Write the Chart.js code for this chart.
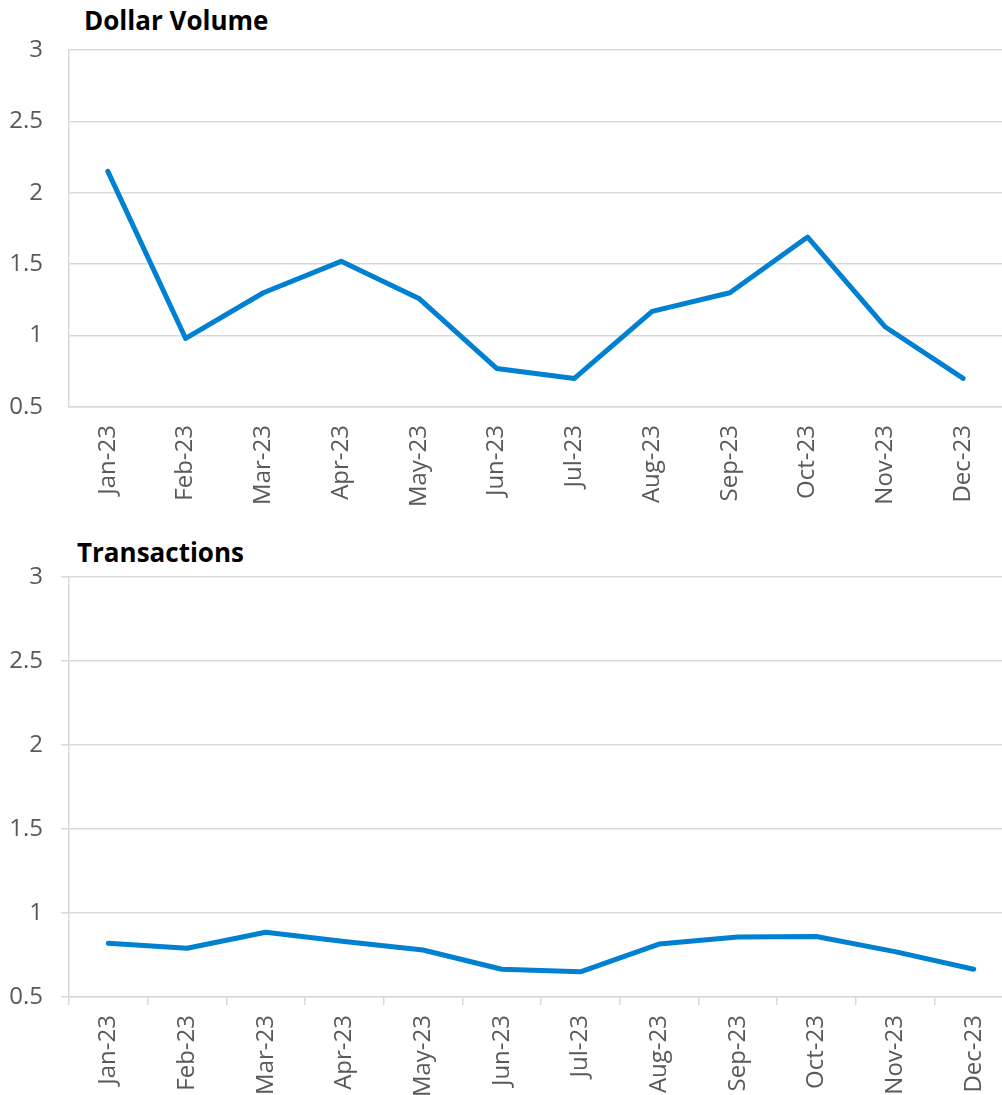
<!DOCTYPE html>
<html>
<head>
<meta charset="utf-8">
<script src="https://cdn.jsdelivr.net/npm/chart.js@4.4.1/dist/chart.umd.min.js"></script>
<style>
  body { margin: 0; background: #fff; overflow: hidden; }
  .wrap { position: relative; width: 1002px; height: 1095px; overflow: hidden; }
  .title { position: absolute; font-family: "Open Sans"; font-weight: bold; font-size: 26px; line-height: 26px; color: #000; }
  canvas { position: absolute; left: 0; }
</style>
</head>
<body>
<div class="wrap">
  <div class="title" style="left:84px; top:7px;">Dollar Volume</div>
  <canvas id="volumeChart" width="1002" height="520" style="top:0;"></canvas>
  <div class="title" style="left:77px; top:539px;">Transactions</div>
  <!-- the lower chart's plot runs a little past the right edge of the picture -->
  <canvas id="txChart" width="1013" height="565" style="top:530px;"></canvas>
</div>
<script>
// months on the x axis
const months = ['Jan-23', 'Feb-23', 'Mar-23', 'Apr-23', 'May-23', 'Jun-23',
                'Jul-23', 'Aug-23', 'Sep-23', 'Oct-23', 'Nov-23', 'Dec-23'];

// series values
const dollarVolume = [2.15, 0.98, 1.30, 1.52, 1.26, 0.77, 0.70, 1.17, 1.30, 1.69, 1.06, 0.70];
const transactions = [0.82, 0.79, 0.885, 0.83, 0.78, 0.665, 0.65, 0.815, 0.857, 0.86, 0.77, 0.665];

const yMin = 0.5;
const yMax = 3;
const yStep = 0.5;

const lineColor = '#0080D0';
const gridColor = '#D9D9D9';
const textColor = '#595959';

Chart.defaults.font.family = 'Open Sans';
Chart.defaults.font.size = 24;
Chart.defaults.color = textColor;

function makeChart(canvasId, values, opts) {
    const ctx = document.getElementById(canvasId).getContext('2d');
    return new Chart(ctx, {
        type: 'line',
        data: {
            labels: months,
            datasets: [{
                data: values,
                borderColor: lineColor,
                borderWidth: 5,
                borderCapStyle: 'round',
                borderJoinStyle: 'round',
                pointRadius: 0,
                fill: false,
                tension: 0
            }]
        },
        options: {
            responsive: false,
            animation: false,
            layout: { padding: { top: opts.padTop, right: 0, left: 0, bottom: 0 } },
            plugins: {
                legend: { display: false },
                title: { display: false },
                tooltip: { enabled: false }
            },
            scales: {
                x: {
                    type: 'category',
                    offset: true,
                    grid: {
                        offset: true,
                        drawOnChartArea: false,
                        drawTicks: opts.xTicks,
                        tickLength: 8,
                        tickColor: gridColor,
                        lineWidth: 1.5
                    },
                    border: { color: gridColor, width: 1.5 },
                    ticks: {
                        minRotation: 90,
                        maxRotation: 90,
                        autoSkip: false,
                        padding: opts.xPad
                    },
                    afterFit: function (scale) {
                        scale.height = opts.xHeight;
                        scale.paddingLeft = 0;
                        scale.paddingRight = 0;
                    }
                },
                y: {
                    min: yMin,
                    max: yMax,
                    grid: {
                        color: gridColor,
                        lineWidth: 1.5,
                        drawTicks: opts.yTicks,
                        tickLength: 8
                    },
                    border: { color: gridColor, width: 1.5 },
                    ticks: {
                        stepSize: yStep,
                        padding: opts.yPad,
                        callback: function (value) { return String(Math.round(value * 10) / 10); }
                    },
                    afterFit: function (scale) {
                        scale.width = 69;
                        scale.paddingTop = 0;
                        scale.paddingBottom = 0;
                    }
                }
            }
        }
    });
}

makeChart('volumeChart', dollarVolume, { padTop: 50, xHeight: 113, xTicks: false, xPad: 18, yTicks: false, yPad: 26 });
makeChart('txChart', transactions, { padTop: 47, xHeight: 98, xTicks: true, xPad: 10, yTicks: true, yPad: 18 });
</script>
</body>
</html>
